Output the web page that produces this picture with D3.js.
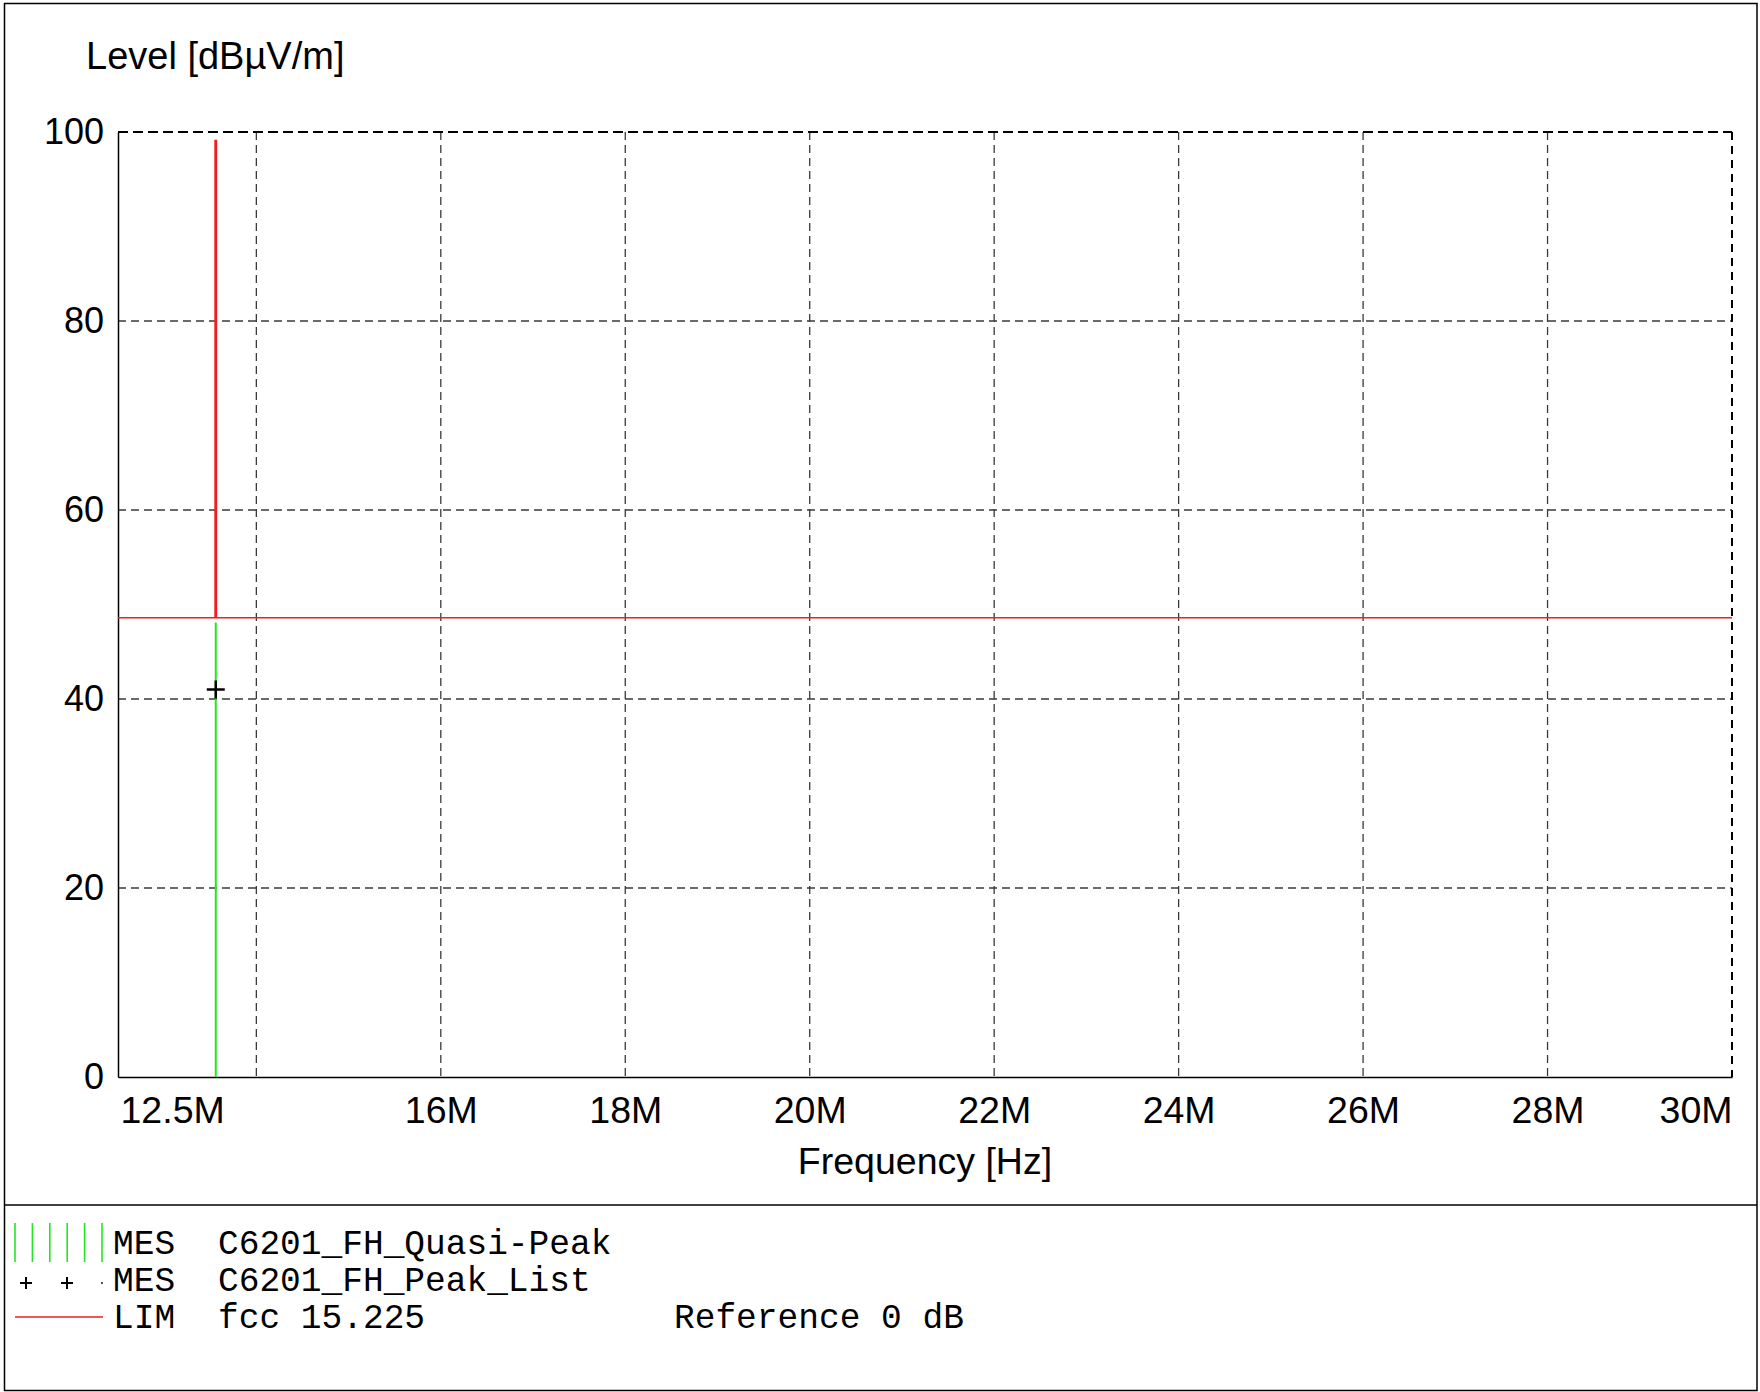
<!DOCTYPE html>
<html>
<head>
<meta charset="utf-8">
<script src="https://cdn.jsdelivr.net/npm/d3@7"></script>
<style>
  body { margin: 0; background: #fff; }
  .tick text { font-family: "Liberation Sans", Arial, sans-serif; fill: #000; }
  .legend text { font-family: "Liberation Mono", "Courier New", monospace; font-size: 34.5px; fill: #000; }
</style>
</head>
<body>
<div id="chart"></div>
<script>
// x axis ticks (Hz) and their labels
const freqTicks = [12.5e6, 14e6, 16e6, 18e6, 20e6, 22e6, 24e6, 26e6, 28e6, 30e6]
const freqLabels = ["12.5M", "", "16M", "18M", "20M", "22M", "24M", "26M", "28M", "30M"]
const levelTicks = [0, 20, 40, 60, 80, 100]

// LIM fcc 15.225 (clipped at the top of the plot)
const limitFreq = [12.5e6, 13.553e6, 13.553e6, 13.567e6, 13.567e6, 30e6]
const limitLevel = [48.6, 48.6, 99.1, 99.1, 48.6, 48.6]

// MES C6201_FH_Quasi-Peak
const qpFreq = [13.56e6]
const qpLevel = [48.1]

// MES C6201_FH_Peak_List
const peakFreq = [13.56e6]
const peakLevel = [41.0]

const legendRows = [
    { kind: "MES", name: "C6201_FH_Quasi-Peak", extra: "" },
    { kind: "MES", name: "C6201_FH_Peak_List", extra: "" },
    { kind: "LIM", name: "fcc 15.225", extra: "Reference 0 dB" }
]

const width = 1760
const height = 1392
const dimensions = {
    left: 118,
    right: 1732,
    top: 132,
    bottom: 1077
}

const green = "#22e622"
const red = "#f01e1e"

const svg = d3.select("#chart").append("svg")
    .attr("width", width)
    .attr("height", height)

// outer frame and separator
svg.append("rect")
    .attr("x", 4.5).attr("y", 3.5)
    .attr("width", width - 7.5).attr("height", height - 5)
    .attr("fill", "none")
    .attr("stroke", "#000")
    .attr("stroke-width", 1.5)

svg.append("line")
    .attr("x1", 4.5).attr("x2", width - 3)
    .attr("y1", 1205).attr("y2", 1205)
    .attr("stroke", "#000")
    .attr("stroke-width", 1.5)

// scales
const x = d3.scaleLinear()
    .domain([12.5e6, 30e6])
    .range([dimensions.left, dimensions.right])

const y = d3.scaleLinear()
    .domain([0, 100])
    .range([dimensions.bottom, dimensions.top])

// grid
const grid = svg.append("g")
grid.selectAll(".vgrid")
    .data(freqTicks.slice(1, -1))
    .join("line")
        .attr("x1", d => x(d)).attr("x2", d => x(d))
        .attr("y1", dimensions.top).attr("y2", dimensions.bottom)
        .attr("stroke", "#3a3a3a")
        .attr("stroke-width", 1.3)
        .attr("stroke-dasharray", "8,5")

grid.selectAll(".hgrid")
    .data(levelTicks.slice(1, -1))
    .join("line")
        .attr("x1", dimensions.left).attr("x2", dimensions.right)
        .attr("y1", d => y(d)).attr("y2", d => y(d))
        .attr("stroke", "#3a3a3a")
        .attr("stroke-width", 1.3)
        .attr("stroke-dasharray", "8,5")

// top and right borders are dashed
grid.append("line")
    .attr("x1", dimensions.left).attr("x2", dimensions.right)
    .attr("y1", y(100)).attr("y2", y(100))
    .attr("stroke", "#000").attr("stroke-width", 2)
    .attr("stroke-dasharray", "10,5")
grid.append("line")
    .attr("x1", x(30e6)).attr("x2", x(30e6))
    .attr("y1", dimensions.top).attr("y2", dimensions.bottom)
    .attr("stroke", "#000").attr("stroke-width", 2)
    .attr("stroke-dasharray", "8,6")

// axes
const xAxis = svg.append("g")
    .attr("transform", `translate(0, ${dimensions.bottom})`)
    .call(d3.axisBottom(x)
        .tickValues(freqTicks)
        .tickFormat((d, i) => freqLabels[i])
        .tickSize(0))
xAxis.select(".domain").attr("stroke", "#000").attr("stroke-width", 1.5)
xAxis.selectAll(".tick text")
    .attr("y", 46)
    .attr("dy", 0)
    .style("font-size", "37.5px")
    .attr("text-anchor", (d, i) => i == 0 ? "start" : (i == freqTicks.length - 1 ? "end" : "middle"))
    .attr("x", (d, i) => i == 0 ? 2 : 0)

const yAxis = svg.append("g")
    .attr("transform", `translate(${dimensions.left}, 0)`)
    .call(d3.axisLeft(y)
        .tickValues(levelTicks)
        .tickSize(0)
        .tickPadding(14))
yAxis.select(".domain").attr("stroke", "#000").attr("stroke-width", 1.5)
yAxis.selectAll(".tick text")
    .style("font-size", "36px")
    .attr("dy", "0.33em")

// axis titles
svg.append("text")
    .attr("x", 86)
    .attr("y", 69)
    .style("font-family", "'Liberation Sans', Arial, sans-serif")
    .style("font-size", "38px")
    .text("Level [dBµV/m]")

svg.append("text")
    .attr("x", (dimensions.left + dimensions.right) / 2)
    .attr("y", 1174)
    .attr("text-anchor", "middle")
    .style("font-family", "'Liberation Sans', Arial, sans-serif")
    .style("font-size", "37.5px")
    .text("Frequency [Hz]")

// quasi-peak bars
svg.selectAll(".qp")
    .data(qpFreq.map((f, i) => [f, qpLevel[i]]))
    .join("line")
        .attr("x1", d => x(d[0])).attr("x2", d => x(d[0]))
        .attr("y1", y(0)).attr("y2", d => y(d[1]))
        .attr("stroke", green)
        .attr("stroke-width", 2)

// limit line
const limitLine = d3.line()
    .x(d => x(d[0]))
    .y(d => y(d[1]))
svg.append("path")
    .datum(limitFreq.map((f, i) => [f, limitLevel[i]]))
    .attr("d", limitLine)
    .attr("fill", "none")
    .attr("stroke", red)
    .attr("stroke-width", 1.6)

// peak list markers
svg.selectAll(".peak")
    .data(peakFreq.map((f, i) => [f, peakLevel[i]]))
    .join("path")
        .attr("d", d => {
            const cx = x(d[0]), cy = y(d[1])
            return `M${cx - 9},${cy}H${cx + 9}M${cx},${cy - 9}V${cy + 9}`
        })
        .attr("stroke", "#000")
        .attr("stroke-width", 2.5)

// legend
const legend = svg.append("g").attr("class", "legend")
const rowY = [1254, 1291, 1328]

legendRows.forEach((row, i) => {
    legend.append("text").attr("x", 113).attr("y", rowY[i]).text(row.kind)
    legend.append("text").attr("x", 218).attr("y", rowY[i]).text(row.name)
    if (row.extra) {
        legend.append("text").attr("x", 674).attr("y", rowY[i]).text(row.extra)
    }
})

// legend symbols
d3.range(6).forEach(i => {
    legend.append("line")
        .attr("x1", 15 + i * 17.4).attr("x2", 15 + i * 17.4)
        .attr("y1", 1223).attr("y2", 1262)
        .attr("stroke", green)
        .attr("stroke-width", 1.6)
})
;[26, 67].forEach(cx => {
    legend.append("path")
        .attr("d", `M${cx - 6},1283H${cx + 6}M${cx},1277V1289`)
        .attr("stroke", "#000")
        .attr("stroke-width", 2)
})
legend.append("rect")
    .attr("x", 101).attr("y", 1282)
    .attr("width", 2).attr("height", 2)
    .attr("fill", "#555")
legend.append("line")
    .attr("x1", 15).attr("x2", 103)
    .attr("y1", 1317).attr("y2", 1317)
    .attr("stroke", red)
    .attr("stroke-width", 1.6)
</script>
</body>
</html>
